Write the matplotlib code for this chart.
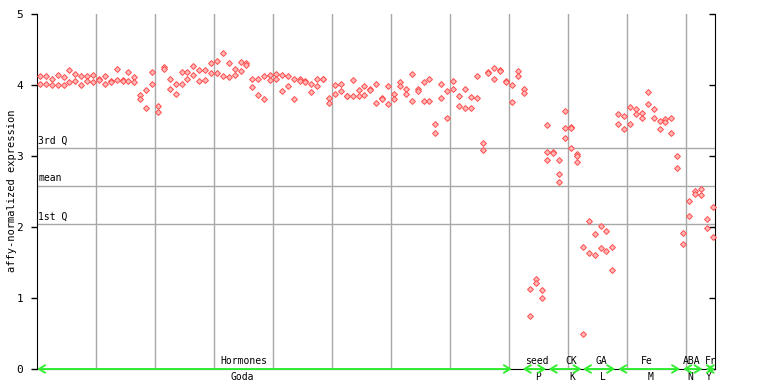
import matplotlib
matplotlib.use("Agg")
import matplotlib.pyplot as plt
import matplotlib.lines as mlines

# ---- data ----
sample_values = [
    [4.12, 4.02], [4.12, 4.01], [4.09, 4.00], [4.14, 4.00], [4.11, 4.00],
    [4.21, 4.04], [4.15, 4.06], [4.13, 4.00], [4.12, 4.05], [4.14, 4.04],
    [4.09, 4.07], [4.12, 4.01], [4.06, 4.04], [4.22, 4.07], [4.07, 4.05],
    [4.19, 4.05], [4.11, 4.04], [3.86, 3.80], [3.93, 3.67], [4.19, 4.01],
    [3.70, 3.62], [4.26, 4.22], [4.08, 3.95], [4.01, 3.88], [4.18, 4.01],
    [4.18, 4.08], [4.27, 4.14], [4.21, 4.05], [4.21, 4.07], [4.31, 4.17],
    [4.34, 4.17], [4.45, 4.13], [4.31, 4.11], [4.22, 4.14], [4.33, 4.20],
    [4.31, 4.28], [4.09, 3.97], [4.08, 3.86], [4.13, 3.80], [4.14, 4.07],
    [4.16, 4.08], [4.14, 3.91], [4.13, 3.99], [4.09, 3.80], [4.09, 4.05],
    [4.05, 4.04], [4.02, 3.90], [4.09, 3.99], [4.09, 4.08], [3.81, 3.74],
    [4.00, 3.88], [4.01, 3.91], [3.85, 3.84], [4.07, 3.85], [3.93, 3.85],
    [3.99, 3.86], [3.94, 3.93], [4.01, 3.74], [3.81, 3.80], [3.99, 3.73],
    [3.87, 3.80], [4.04, 3.98], [3.95, 3.87], [4.16, 3.78], [3.94, 3.91],
    [4.04, 3.78], [4.08, 3.78], [3.45, 3.33], [4.01, 3.81], [3.91, 3.54],
    [4.06, 3.94], [3.85, 3.70], [3.95, 3.67], [3.83, 3.67], [4.13, 3.81],
    [3.18, 3.09], [4.18, 4.17], [4.24, 4.08], [4.21, 4.20], [4.06, 4.04],
    [4.00, 3.76], [4.20, 4.12], [3.95, 3.89], [1.12, 0.74], [1.27, 1.21],
    [1.11, 1.00], [3.44, 3.05, 2.95], [3.05, 3.04], [2.95, 2.74, 2.64],
    [3.63, 3.40, 3.25], [3.41, 3.40, 3.11], [3.03, 3.00, 2.91],
    [1.72, 0.50], [2.08, 1.63], [1.90, 1.60], [2.02, 1.70], [1.95, 1.66],
    [1.72, 1.39], [3.59, 3.45], [3.57, 3.38], [3.69, 3.45], [3.66, 3.59],
    [3.60, 3.54], [3.90, 3.73], [3.66, 3.54], [3.49, 3.38], [3.52, 3.48],
    [3.54, 3.33], [3.00, 2.83], [1.91, 1.76], [2.36, 2.16], [2.51, 2.46],
    [2.53, 2.45], [2.11, 1.99], [2.28, 1.86],
]

group_names = ["Hormones", "seed", "CK", "GA", "Fe", "ABA", "Fr"]
group_sources = ["Goda", "P", "K", "L", "M", "N", "Y"]
group_start = [-0.5, 81.8, 86.2, 92.0, 98.0, 109.0, 112.8]
group_end = [80.0, 85.8, 91.8, 97.5, 108.5, 112.3, 114.4]
group_label_pos = [34.5, 84.2, 90.0, 95.1, 102.9, 110.5, 113.7]
source_label_pos = [34.2, 84.4, 90.2, 95.4, 103.4, 110.3, 113.4]

stat_names = ["3rd Q", "mean", "1st Q"]
stat_values = [3.11, 2.58, 2.04]

y_ticks = [0, 1, 2, 3, 4, 5]

# ---- figure ----
fig = plt.figure(figsize=(7.68, 3.84), dpi=100)
ax = fig.add_axes([37 / 768, 1 - 369 / 384, (715 - 37) / 768, (369 - 14) / 384])
mono = "DejaVu Sans Mono"

xlim = (-0.5, 114.4)
ax.set_xlim(*xlim)
ax.set_ylim(0, 5)

# vertical grid lines every 10 samples
for gx in range(10, 120, 10):
    xv = gx - 0.5
    if xv < xlim[1]:
        ax.axvline(xv, color="#a8a8a8", lw=1.0, zorder=1)

# statistic lines
for name, val in zip(stat_names, stat_values):
    ax.axhline(val, color="#a8a8a8", lw=1.0, zorder=1)
    ax.text(-0.3, val + 0.04, name, fontsize=7, family=mono, ha="left",
            va="bottom", color="black", zorder=3)

# points
xs, ys = [], []
for i, vals in enumerate(sample_values):
    for v in vals:
        xs.append(i)
        ys.append(v)
ax.plot(xs, ys, linestyle="none", marker="D", markersize=3.0,
        markerfacecolor="#ffb8b8", markeredgecolor="#ff4d4d",
        markeredgewidth=0.7, zorder=4, clip_on=False)

# axes styling
ax.spines["top"].set_visible(False)
for sp in ("left", "right", "bottom"):
    ax.spines[sp].set_color("black")
ax.set_yticks(y_ticks)
ax.set_yticklabels([str(t) for t in y_ticks], family=mono, fontsize=8)
ax.tick_params(axis="y", direction="out", length=4, width=1, pad=6,
               right=True, labelright=False)
ax.tick_params(axis="x", bottom=False, labelbottom=False)
for t in ax.yaxis.get_major_ticks():
    t.tick2line.set_marker(mlines.TICKLEFT)  # right ticks point inward

fig.text(12 / 768, 1 - 191 / 384, "affy-normalized expression", family=mono,
         fontsize=7.5, rotation=90, ha="center", va="center")

# group arrows along the bottom
for name, src, s, e, lp, sp in zip(group_names, group_sources, group_start,
                                   group_end, group_label_pos, source_label_pos):
    ax.annotate("", xy=(e, 0), xytext=(s, 0),
                arrowprops=dict(arrowstyle="<->,head_length=0.5,head_width=0.3",
                                color="#33ee33", lw=1.4, mutation_scale=9,
                                shrinkA=0, shrinkB=0),
                annotation_clip=False, zorder=5)
    ax.text(lp, 0.04, name, fontsize=7, family=mono, ha="center", va="bottom")
    ax.text(sp, -0.04, src, fontsize=7, family=mono, ha="center", va="top")

fig.savefig("out.png", dpi=100)
